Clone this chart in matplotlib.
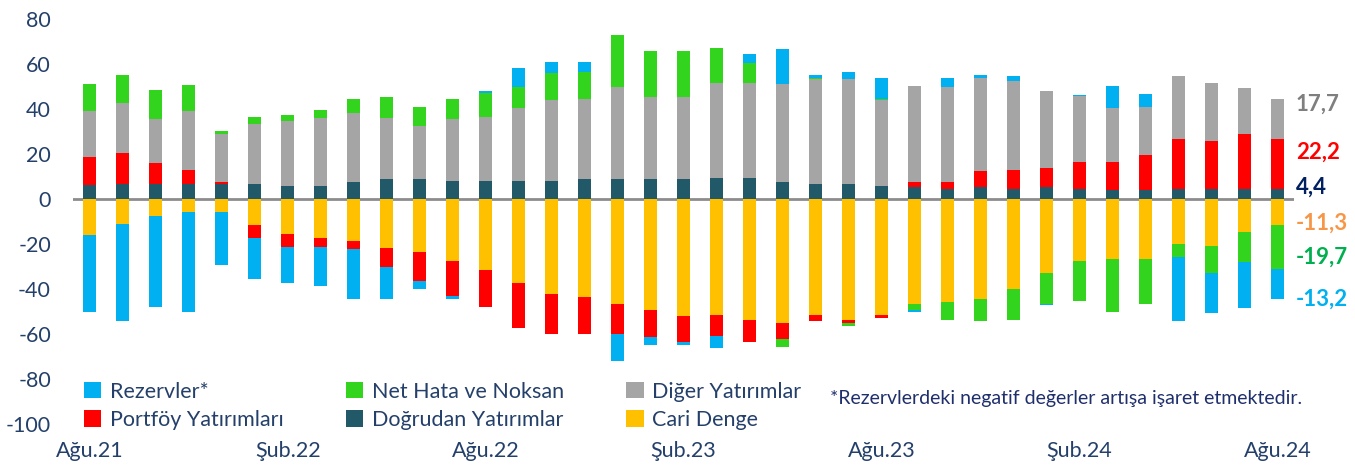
import matplotlib.pyplot as plt
import numpy as np

plt.rcParams['font.family'] = ['Lato', 'DejaVu Sans']
plt.rcParams['axes.unicode_minus'] = False

# Monthly values (bn USD, 12-month cumulative), Ağu.21 - Ağu.24
months = ['Ağu.21', 'Eyl.21', 'Eki.21', 'Kas.21', 'Ara.21', 'Oca.22', 'Şub.22', 'Mar.22', 'Nis.22',
          'May.22', 'Haz.22', 'Tem.22', 'Ağu.22', 'Eyl.22', 'Eki.22', 'Kas.22', 'Ara.22', 'Oca.23',
          'Şub.23', 'Mar.23', 'Nis.23', 'May.23', 'Haz.23', 'Tem.23', 'Ağu.23', 'Eyl.23', 'Eki.23',
          'Kas.23', 'Ara.23', 'Oca.24', 'Şub.24', 'Mar.24', 'Nis.24', 'May.24', 'Haz.24', 'Tem.24',
          'Ağu.24']

cari = [-16.0, -11.0, -7.4, -5.9, -5.9, -11.7, -15.3, -17.3, -18.7, -21.6, -23.7, -27.3,
        -31.6, -37.3, -42.2, -43.7, -46.5, -49.3, -52.1, -51.6, -53.6, -55.1, -51.6, -53.6,
        -51.6, -46.5, -45.8, -44.4, -40.1, -33.0, -27.3, -26.5, -26.5, -20.1, -20.9, -14.5,
        -11.3]
dogrudan = [6.1, 6.8, 6.8, 6.8, 6.8, 6.8, 5.9, 5.9, 7.6, 8.9, 8.9, 8.1,
            8.0, 8.0, 8.0, 8.9, 8.9, 8.9, 8.9, 9.5, 9.5, 7.4, 6.7, 6.7,
            5.9, 5.3, 4.6, 5.3, 4.6, 5.3, 4.6, 4.0, 4.0, 4.6, 4.6, 4.6,
            4.4]
portfoy = [12.7, 13.5, 9.2, 6.2, 0.8, -5.6, -6.2, -4.2, -3.5, -8.5, -12.7, -15.7,
           -16.3, -19.9, -17.8, -16.3, -13.5, -12.2, -11.5, -9.1, -10.0, -7.1, -2.8, -1.5,
           -1.3, 2.1, 2.8, 7.1, 8.4, 8.6, 12.0, 12.6, 15.6, 22.1, 21.3, 24.3,
           22.2]
diger = [20.2, 22.2, 19.4, 26.0, 21.4, 26.4, 28.6, 30.1, 30.5, 27.1, 23.5, 27.3,
         28.7, 32.3, 35.9, 35.5, 40.7, 36.3, 36.3, 42.2, 42.2, 43.6, 46.5, 46.5,
         38.0, 42.8, 42.2, 41.4, 39.4, 34.2, 29.3, 23.7, 21.4, 27.8, 25.8, 20.6,
         17.7]
net_hata = [12.0, 12.6, 13.3, 11.8, 1.2, 3.5, 2.8, 3.6, 6.3, 9.2, 8.5, 9.0,
            10.6, 9.3, 12.1, 12.3, 23.4, 20.6, 20.6, 15.6, 8.6, -3.6, 0.7, -1.3,
            0.5, -2.8, -7.8, -10.0, -13.5, -13.5, -17.9, -23.6, -20.0, -5.8, -12.1, -13.5,
            -19.7]
rezervler = [-34.1, -43.4, -40.5, -44.2, -23.4, -18.4, -15.7, -17.2, -22.2, -14.3, -3.7, -1.4,
             0.8, 8.5, 4.9, 4.2, -12.1, -3.5, -1.4, -5.7, 4.3, 15.5, 1.2, 3.5,
             9.4, -0.8, 4.2, 1.3, 2.1, -0.8, 0.3, 9.9, 5.7, -28.5, -17.8, -20.6,
             -13.2]

tick_labels = ['Ağu.21', 'Şub.22', 'Ağu.22', 'Şub.23', 'Ağu.23', 'Şub.24', 'Ağu.24']

series = [
    ('Cari Denge', cari, '#FFC000'),
    ('Doğrudan Yatırımlar', dogrudan, '#215968'),
    ('Portföy Yatırımları', portfoy, '#FF0000'),
    ('Diğer Yatırımlar', diger, '#A5A5A5'),
    ('Net Hata ve Noksan', net_hata, '#33D41E'),
    ('Rezervler*', rezervler, '#00B0F0'),
]

navy = '#24406A'
fig = plt.figure(figsize=(13.55, 4.66), dpi=100)
ax = fig.add_axes([0.054, 0.090, 0.901, 0.869])

x = np.arange(len(months))
pos_bottom = np.zeros(len(months))
neg_bottom = np.zeros(len(months))
handles = {}
for name, vals, color in series:
    v = np.array(vals)
    pos = np.where(v > 0, v, 0)
    neg = np.where(v < 0, v, 0)
    b = ax.bar(x, pos, 0.4, bottom=pos_bottom, color=color, edgecolor='none', label=name)
    ax.bar(x, neg, 0.4, bottom=neg_bottom, color=color, edgecolor='none')
    pos_bottom += pos
    neg_bottom += neg
    handles[name] = b

ax.axhline(0, color='#8C8C8C', lw=2, zorder=0)

ax.set_xlim(-0.5, len(months) - 0.5)
ax.set_ylim(-100, 80)
ax.set_yticks(np.arange(-100, 81, 20))
ax.set_xticks([months.index(m) for m in tick_labels])
ax.set_xticklabels(tick_labels)
ax.tick_params(axis='y', length=0, pad=16, labelsize=15.5, labelcolor=navy)
ax.tick_params(axis='x', length=0, pad=12, labelsize=15.5, labelcolor=navy)
for s in ax.spines.values():
    s.set_visible(False)

order = ['Rezervler*', 'Portföy Yatırımları', 'Net Hata ve Noksan',
         'Doğrudan Yatırımlar', 'Diğer Yatırımlar', 'Cari Denge']
leg = ax.legend([handles[n] for n in order], order, ncol=3, loc='lower left',
                bbox_to_anchor=(-0.007, -0.062), frameon=False, fontsize=15.5,
                handlelength=0.8, handleheight=0.8, handletextpad=0.4,
                columnspacing=2.9, labelspacing=0.38)
for t in leg.get_texts():
    t.set_color(navy)

ax.text(0.62, 0.064, '*Rezervlerdeki negatif değerler artışa işaret etmektedir.',
        transform=ax.transAxes, fontsize=14, color='#1F2F6B', va='center', ha='left')

# end-of-series labels for the last month
last = len(months) - 1
labels_right = [
    (f'{diger[-1]:.1f}'.replace('.', ','), 42.0, '#7F7F7F'),
    (f'{portfoy[-1]:.1f}'.replace('.', ','), 21.0, '#FF0000'),
    (f'{dogrudan[-1]:.1f}'.replace('.', ','), 5.5, '#002060'),
    (f'{cari[-1]:.1f}'.replace('.', ','), -10.5, '#F79646'),
    (f'{net_hata[-1]:.1f}'.replace('.', ','), -26.0, '#00B050'),
    (f'{rezervler[-1]:.1f}'.replace('.', ','), -44.5, '#00B0F0'),
]
for txt, yv, col in labels_right:
    ax.text(last + 0.55, yv, txt, color=col, fontsize=16, fontweight='bold',
            va='center', ha='left', clip_on=False)

fig.savefig('out.png', dpi=100)
